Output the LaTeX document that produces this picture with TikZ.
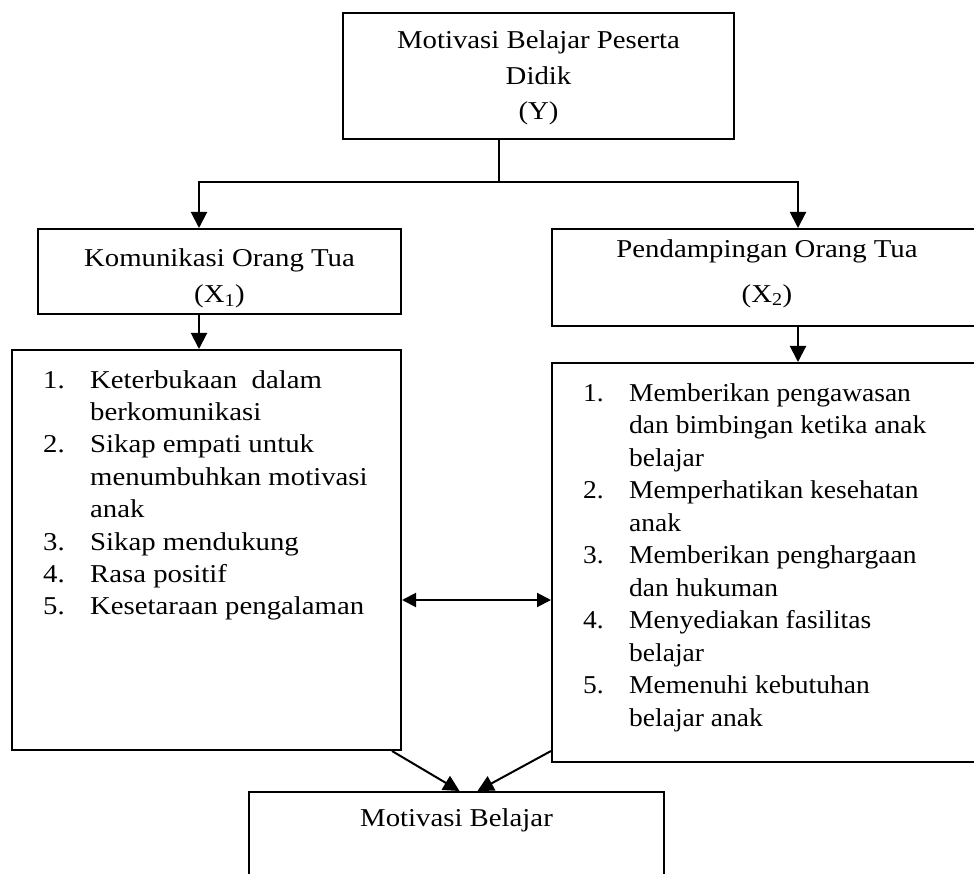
\documentclass[tikz,border=0pt]{standalone}
\usepackage{fontspec}
\setmainfont[FakeStretch=1.12]{Liberation Serif}
\newfontfamily\hurufkanan[FakeStretch=1.07]{Liberation Serif}
\usetikzlibrary{arrows.meta,positioning}

\tikzset{
    kotak/.style={draw, line width=2pt, rectangle, inner sep=0pt, anchor=north west},
    teks/.style={font=\fontsize{25.7}{35.5}\selectfont, align=center, inner sep=0pt},
    isi/.style={font=\fontsize{25.7}{32.4}\selectfont, inner sep=0pt, anchor=base west},
    panah/.style={line width=2pt, -{Triangle[width=16pt,length=16pt]}},
    duapanah/.style={line width=2pt, {Triangle[width=14pt,length=14pt]}-{Triangle[width=14pt,length=14pt]}},
}

\begin{document}
\begin{tikzpicture}[x=1pt,y=-1pt]
    \clip (0,0) rectangle (974,874);

    % variabel Y
    \node[kotak, minimum width=391pt, minimum height=126pt] (Y) at (342,12) {};
    \node[teks] (Yteks) at ([yshift=-2pt]Y.center) {Motivasi Belajar Peserta\\Didik\\(Y)};

    % variabel X1 dan X2
    \node[kotak, minimum width=363pt, minimum height=85pt] (X1) at (37,228) {};
    \node[teks] (X1teks) at ([yshift=-7pt]X1.center) {Komunikasi Orang Tua\\(X\textsubscript{1})};
    \node[kotak, minimum width=430pt, minimum height=97pt] (X2) at (551,228) {};
    \node[teks, font=\fontsize{25.7}{45}\selectfont] (X2teks) at ([yshift=4pt]X2.center)
        {Pendampingan Orang Tua\\(X\textsubscript{2})};

    % kotak indikator
    \node[kotak, minimum width=389pt, minimum height=400pt] (daftarA) at (11,349) {};
    \node[kotak, minimum width=440pt, minimum height=399pt] (daftarB) at (551,362) {};

    \node[isi] (isiA) at ([xshift=32pt,yshift=-39pt]daftarA.north west) {%
        \begin{tabular}[t]{@{}p{47pt}@{}l@{}}
        1. & Keterbukaan\ \ dalam\\
           & berkomunikasi\\
        2. & Sikap empati untuk\\
           & menumbuhkan motivasi\\
           & anak\\
        3. & Sikap mendukung\\
        4. & Rasa positif\\
        5. & Kesetaraan pengalaman
        \end{tabular}};
    \node[isi, font=\hurufkanan\fontsize{25.7}{32.5}\selectfont] (isiB) at ([xshift=32pt,yshift=-39pt]daftarB.north west) {%
        \begin{tabular}[t]{@{}p{46pt}@{}l@{}}
        1. & Memberikan pengawasan\\
           & dan bimbingan ketika anak\\
           & belajar\\
        2. & Memperhatikan kesehatan\\
           & anak\\
        3. & Memberikan penghargaan\\
           & dan hukuman\\
        4. & Menyediakan fasilitas\\
           & belajar\\
        5. & Memenuhi kebutuhan\\
           & belajar anak
        \end{tabular}};

    % hasil akhir
    \node[kotak, minimum width=415pt, minimum height=120pt] (akhir) at (248,791) {};
    \node[teks, anchor=base] (akhirteks) at ([yshift=-35pt]akhir.north) {Motivasi Belajar};

    % cabang dari Y
    \coordinate (cabang) at (499,182);
    \coordinate (kiri) at (199,0);
    \coordinate (kanan) at (798,0);
    \draw[line width=2pt] (Y.south -| cabang) -- (cabang);
    \draw[panah] (cabang) -| (kiri |- X1.north);
    \draw[panah] (cabang) -| (kanan |- X2.north);
    \draw[panah] (kiri |- X1.south) -- (kiri |- daftarA.north);
    \draw[panah] (kanan |- X2.south) -- (kanan |- daftarB.north);

    % hubungan X1 dan X2
    \coordinate (tengah) at (475,600);
    \draw[duapanah] (daftarA.east |- tengah) -- (daftarB.west |- tengah);

    % menuju motivasi belajar
    \draw[panah] ([xshift=-10pt]daftarA.south east) -- ([xshift=3pt]akhir.north);
    \draw[panah] ([yshift=12pt]daftarB.south west) -- ([xshift=21pt]akhir.north);
\end{tikzpicture}
\end{document}
